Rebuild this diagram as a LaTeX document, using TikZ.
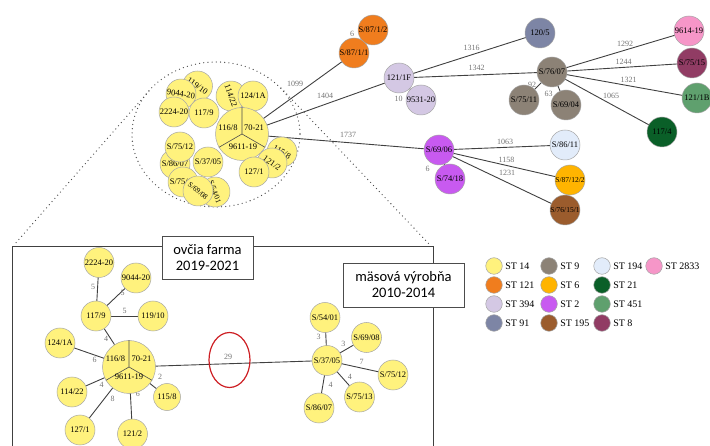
\documentclass[tikz,border=0pt]{standalone}
\usepackage{fontspec}
\setmainfont{Liberation Serif}
\newfontfamily\boxfont{Carlito}
\usetikzlibrary{positioning,backgrounds}
\definecolor{c14}{RGB}{255,242,125}
\definecolor{c9}{RGB}{140,130,118}
\definecolor{c194}{RGB}{226,236,250}
\definecolor{c2833}{RGB}{246,150,200}
\definecolor{c121}{RGB}{240,125,30}
\definecolor{c6}{RGB}{255,180,0}
\definecolor{c21}{RGB}{10,95,40}
\definecolor{c394}{RGB}{212,200,228}
\definecolor{c2}{RGB}{200,90,240}
\definecolor{c451}{RGB}{95,160,110}
\definecolor{c91}{RGB}{125,133,165}
\definecolor{c195}{RGB}{155,92,45}
\definecolor{c8}{RGB}{145,60,100}
\definecolor{zoomred}{RGB}{205,30,35}
\begin{document}
\begin{tikzpicture}[x=1pt,y=-1pt]
		\tikzset{>=latex}
		\tikzset{
			mlst/.style={circle, draw=gray!70, line width=0.5pt, minimum size=30pt, inner sep=0pt, font=\fontsize{8.5}{9}\selectfont},
			smallst/.style={mlst, font=\fontsize{7.5}{8}\selectfont},
			bigst/.style={mlst, fill=c14, minimum size=53pt},
			bigtxt/.style={inner sep=0pt, font=\fontsize{8.5}{9}\selectfont},
			divline/.style={draw=black!70, line width=0.6pt},
			edge/.style={draw=black!75, line width=0.9pt},
			elab/.style={text=black!55, font=\fontsize{8}{9}\selectfont, inner sep=0pt},
			zoomdots/.style={draw=black!70, line width=1.3pt, dash pattern=on 0pt off 4.2pt, line cap=round},
			keyst/.style={circle, draw=gray!70, line width=0.5pt, minimum size=16.6pt, inner sep=0pt},
			keytext/.style={inner sep=0pt, font=\fontsize{10}{11}\selectfont},
			tag/.style={draw=black!70, fill=white, line width=0.7pt, align=center, inner sep=0pt, font=\boxfont\fontsize{14.5}{16}\selectfont}
		}
		\useasboundingbox (0,0) rectangle (710,446);

		% upper tree
		\draw[zoomdots] (216,134.5) ellipse [x radius=84, y radius=72.5];
		\node[mlst, fill=c14, rotate=-35] (t11910) at (197.5,86) {119/10};
		\node[mlst, fill=c14, rotate=-8] (t9044) at (181,94) {9044-20};
		\node[mlst, fill=c14] (t2224) at (174,112) {2224-20};
		\node[mlst, fill=c14] (t1179) at (204,113) {117/9};
		\node[mlst, fill=c14, rotate=-70] (t11422) at (231,96) {114/22};
		\node[mlst, fill=c14] (t1241a) at (253,96) {124/1A};
		\node[bigst] (tbig) at (242,134) {};
		\draw[divline] (tbig.center) -- (tbig.north) (tbig.center) -- (tbig.210) (tbig.center) -- (tbig.330);
		\node[bigtxt] (t1168) at (228,128) {116/8};
		\node[bigtxt] (t7021) at (254,128) {70-21};
		\node[bigtxt] (t961119) at (243,147) {9611-19};
		\node[mlst, fill=c14, rotate=-30] (t1158) at (282,152) {115/8};
		\node[mlst, fill=c14, rotate=-35] (t1212) at (272,163) {121/2};
		\node[mlst, fill=c14] (t1271) at (254,172) {127/1};
		\node[mlst, fill=c14] (t8607) at (175,164) {S/86/07};
		\node[mlst, fill=c14] (t7512) at (180,147) {S/75/12};
		\node[mlst, fill=c14] (t3705) at (208,162) {S/37/05};
		\node[mlst, fill=c14] (t7513) at (183,182) {S/75/13};
		\node[smallst, fill=c14, rotate=-70] (t5401) at (215,192) {S/54/01};
		\node[smallst, fill=c14, rotate=-40] (t6908) at (198,191) {S/69/08};

		\node[mlst, fill=c121] (t8712) at (373,30) {S/87/1/2};
		\node[mlst, fill=c121] (t8711) at (354,53) {S/87/1/1};
		\node[mlst, fill=c394] (t121f) at (399,78) {121/1F};
		\node[mlst, fill=c394] (t9531) at (421,100) {9531-20};
		\node[mlst, fill=c91] (t1205) at (540,33) {120/5};
		\node[mlst, fill=c9] (t7607) at (552,72) {S/76/07};
		\node[mlst, fill=c9] (t7511) at (524,100) {S/75/11};
		\node[mlst, fill=c9] (t6904) at (566,105) {S/69/04};
		\node[mlst, fill=c2833] (t9614) at (689,31) {9614-19};
		\node[mlst, fill=c8] (t7515) at (692,63) {S/75/15};
		\node[mlst, fill=c451] (t121b) at (697,98) {121/1B};
		\node[mlst, fill=c21] (t1174) at (662,132) {117/4};
		\node[mlst, fill=c2] (t6906) at (439,150) {S/69/06};
		\node[mlst, fill=c2] (t7418) at (450,179) {S/74/18};
		\node[mlst, fill=c194] (t8611) at (565,145) {S/86/11};
		\node[smallst, fill=c6] (t87122) at (570,180) {S/87/12/2};
		\node[smallst, fill=c195] (t76151) at (565,210) {S/76/15/1};

		\begin{scope}[on background layer]
			\draw[edge] (tbig.center) -- (t8711.center) node[elab, midway, shift={(-3,-10)}] (l1099) {1099};
			\draw[edge] (tbig.center) -- (t121f.center) node[elab, midway, shift={(4.5,-10)}] (l1404) {1404};
			\draw[edge] (tbig.center) -- (t6906.center) node[elab, midway, shift={(7.5,-7)}] (l1737) {1737};
			\draw[edge] (t8711.center) -- (t8712.center) node[elab, midway, shift={(-11.5,-7.5)}] (l6a) {6};
			\draw[edge] (t121f.center) -- (t9531.center) node[elab, midway, shift={(-11.5,10)}] (l10) {10};
			\draw[edge] (t121f.center) -- (t1205.center) node[elab, midway, shift={(2,-8)}] (l1316) {1316};
			\draw[edge] (t121f.center) -- (t7607.center) node[elab, midway, shift={(1,-7)}] (l1342) {1342};
			\draw[edge] (t7607.center) -- (t7511.center) node[elab, midway, shift={(-6,-1)}] (l92) {92};
			\draw[edge] (t7607.center) -- (t6904.center) node[elab, midway, shift={(-10.5,5.5)}] (l63) {63};
			\draw[edge] (t7607.center) -- (t9614.center) node[elab, midway, shift={(4.5,-8)}] (l1292) {1292};
			\draw[edge] (t7607.center) -- (t7515.center) node[elab, midway, shift={(1.5,-6)}] (l1244) {1244};
			\draw[edge] (t7607.center) -- (t121b.center) node[elab, midway, shift={(4,-5)}] (l1321) {1321};
			\draw[edge] (t7607.center) -- (t1174.center) node[elab, midway, shift={(4,-6)}] (l1065) {1065};
			\draw[edge] (t6906.center) -- (t8611.center) node[elab, midway, shift={(3,-6)}] (l1063) {1063};
			\draw[edge] (t6906.center) -- (t87122.center) node[elab, midway, shift={(2,-5)}] (l1158) {1158};
			\draw[edge] (t6906.center) -- (t76151.center) node[elab, midway, shift={(5,-7)}] (l1231) {1231};
			\draw[edge] (t6906.center) -- (t7418.center) node[elab, midway, shift={(-17,4)}] (l6b) {6};
		\end{scope}

		% zoom lines and frame
		\coordinate (zl1) at (149,91);
		\coordinate (zl2) at (14,245);
		\coordinate (zr1) at (281,88);
		\coordinate (zr2) at (430,245);
		\draw[zoomdots] (zl1) -- (zl2);
		\draw[zoomdots] (zr1) -- (zr2);
		\draw[draw=black!75, line width=1pt] (12,447) -- (12,247) -- (433,247) -- (433,447);
		\node[tag, minimum width=91pt, minimum height=43pt] (sheep) at (207.5,257.5) {ovčia farma\\2019-2021};
		\node[tag, minimum width=121pt, minimum height=44pt] (meat) at (403.5,285) {mäsová výrobňa\\2010-2014};

		% lower tree
		\node[mlst, fill=c14] (b2224) at (99,262.5) {2224-20};
		\node[mlst, fill=c14] (b9044) at (136,278) {9044-20};
		\node[mlst, fill=c14] (b1179) at (96,316) {117/9};
		\node[mlst, fill=c14] (b11910) at (153,316) {119/10};
		\node[mlst, fill=c14] (b1241a) at (60,343) {124/1A};
		\node[bigst] (bbig) at (129,367) {};
		\draw[divline] (bbig.center) -- (bbig.north) (bbig.center) -- (bbig.210) (bbig.center) -- (bbig.330);
		\node[bigtxt] (b1168) at (115.5,359) {116/8};
		\node[bigtxt] (b7021) at (141.5,359) {70-21};
		\node[bigtxt] (b961119) at (129,377) {9611-19};
		\node[mlst, fill=c14] (b11422) at (72,392) {114/22};
		\node[mlst, fill=c14, minimum size=27pt] (b1158) at (167,397) {115/8};
		\node[mlst, fill=c14] (b1271) at (80,430) {127/1};
		\node[mlst, fill=c14] (b1212) at (132.5,434) {121/2};
		\node[mlst, fill=c14] (b5401) at (325,317.5) {S/54/01};
		\node[mlst, fill=c14] (b6908) at (366.5,337.5) {S/69/08};
		\node[mlst, fill=c14] (b3705) at (327,360.5) {S/37/05};
		\node[mlst, fill=c14] (b7512) at (393,375) {S/75/12};
		\node[mlst, fill=c14] (b7513) at (359.5,397) {S/75/13};
		\node[mlst, fill=c14] (b8607) at (319,408) {S/86/07};
		\draw[draw=zoomred, line width=1.2pt] (229.5,360) ellipse [x radius=20.5, y radius=27.5];

		\begin{scope}[on background layer]
			\draw[edge] (bbig.center) -- (b1179.center) node[elab, midway, shift={(-6.5,-3)}] (m4a) {4};
			\draw[edge] (b1179.center) -- (b2224.center) node[elab, midway, shift={(-4.5,-2.5)}] (m5a) {5};
			\draw[edge] (b1179.center) -- (b9044.center) node[elab, midway, shift={(6.5,-4.5)}] (m5b) {5};
			\draw[edge] (b1179.center) -- (b11910.center) node[elab, midway, shift={(0,-5)}] (m5c) {5};
			\draw[edge] (bbig.center) -- (b1241a.center) node[elab, midway, shift={(0,5)}] (m6a) {6};
			\draw[edge] (bbig.center) -- (b11422.center) node[elab, midway, shift={(1,5.5)}] (m4b) {4};
			\draw[edge] (bbig.center) -- (b1271.center) node[elab, midway, shift={(8,0)}] (m8) {8};
			\draw[edge] (bbig.center) -- (b1212.center) node[elab, midway, shift={(7,-6.5)}] (m6b) {6};
			\draw[edge] (bbig.center) -- (b1158.center) node[elab, midway, shift={(12,-5)}] (m2) {2};
			\draw[edge] (bbig.center) -- (b3705.center) node[elab, midway, shift={(0,-6.5)}] (m29) {29};
			\draw[edge] (b3705.center) -- (b5401.center) node[elab, midway, shift={(-7.5,-2.5)}] (m3a) {3};
			\draw[edge] (b3705.center) -- (b6908.center) node[elab, midway, shift={(-3.5,-5.5)}] (m3b) {3};
			\draw[edge] (b3705.center) -- (b7512.center) node[elab, midway, shift={(1.5,-6)}] (m7) {7};
			\draw[edge] (b3705.center) -- (b7513.center) node[elab, midway, shift={(6.5,-2)}] (m4c) {4};
			\draw[edge] (b3705.center) -- (b8607.center) node[elab, midway, shift={(7.5,0.5)}] (m4d) {4};
		\end{scope}

		% key
		\node[keyst, fill=c14] (k14) at (494,266) {};
		\node[keytext, right=2.5pt of k14] (k14t) {ST 14};
		\node[keyst, fill=c9] (k9) at (549,266) {};
		\node[keytext, right=2.5pt of k9] (k9t) {ST 9};
		\node[keyst, fill=c194] (k194) at (602,266) {};
		\node[keytext, right=2.5pt of k194] (k194t) {ST 194};
		\node[keyst, fill=c2833] (k2833) at (654,266) {};
		\node[keytext, right=2.5pt of k2833] (k2833t) {ST 2833};
		\node[keyst, fill=c121] (k121) at (494,285) {};
		\node[keytext, right=2.5pt of k121] (k121t) {ST 121};
		\node[keyst, fill=c6] (k6) at (549,285) {};
		\node[keytext, right=2.5pt of k6] (k6t) {ST 6};
		\node[keyst, fill=c21] (k21) at (602,285) {};
		\node[keytext, right=2.5pt of k21] (k21t) {ST 21};
		\node[keyst, fill=c394] (k394) at (494,304) {};
		\node[keytext, right=2.5pt of k394] (k394t) {ST 394};
		\node[keyst, fill=c2] (k2) at (549,304) {};
		\node[keytext, right=2.5pt of k2] (k2t) {ST 2};
		\node[keyst, fill=c451] (k451) at (602,304) {};
		\node[keytext, right=2.5pt of k451] (k451t) {ST 451};
		\node[keyst, fill=c91] (k91) at (494,323) {};
		\node[keytext, right=2.5pt of k91] (k91t) {ST 91};
		\node[keyst, fill=c195] (k195) at (549,323) {};
		\node[keytext, right=2.5pt of k195] (k195t) {ST 195};
		\node[keyst, fill=c8] (k8) at (602,323) {};
		\node[keytext, right=2.5pt of k8] (k8t) {ST 8};
	\end{tikzpicture}
\end{document}
